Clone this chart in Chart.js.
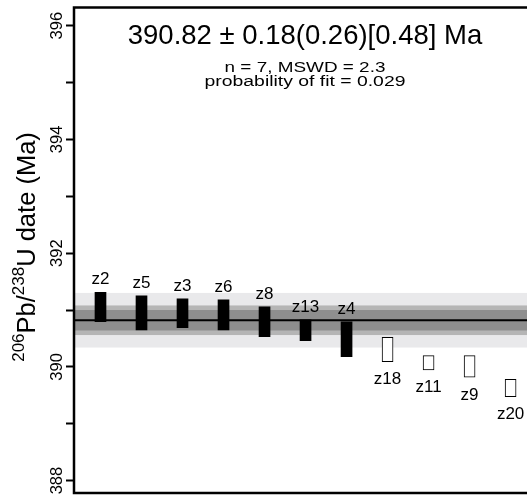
<!DOCTYPE html>
<html>
<head>
<meta charset="utf-8">
<script src="https://cdn.jsdelivr.net/npm/chart.js@4/dist/chart.umd.min.js"></script>
<style>
  html, body { margin: 0; padding: 0; background: #fff; }
  #wrap { width: 527px; height: 498px; position: relative; }
</style>
</head>
<body>
<div id="wrap"><canvas id="dateChart"></canvas></div>
<script>
// zircon grains, left to right
const grains = ['z2', 'z5', 'z3', 'z6', 'z8', 'z13', 'z4', 'z18', 'z11', 'z9', 'z20'];
// 206Pb/238U dates (Ma) and their 2σ errors
const dates  = [391.055, 390.949, 390.943, 390.914, 390.793, 390.644, 390.485, 390.306, 390.072, 390.008, 389.630];
const errors = [0.258, 0.299, 0.252, 0.264, 0.261, 0.182, 0.305, 0.215, 0.126, 0.190, 0.153];
// true = used for the weighted mean (filled bar)
const inMean = [true, true, true, true, true, true, true, false, false, false, false];

// weighted mean and its x / y / z uncertainties
const meanDate = 390.82;
const meanErrors = [0.18, 0.26, 0.48];
const meanN = 7;
const mswd = 2.3;
const probFit = 0.029;

// y axis ticks, labels only on even ages
const tickValues = [388, 389, 390, 391, 392, 393, 394, 395, 396];
const tickLabels = ['388', '', '390', '', '392', '', '394', '', '396'];

const FONT = "'Liberation Sans', Arial, Helvetica, sans-serif";
const bandColors = ['#8e8e8e', '#b5b5b5', '#e9e9eb']; // inner -> outer

// grey bands + mean line behind the bars
const meanBands = {
    id: 'meanBands',
    beforeDatasetsDraw(chart) {
        const {ctx, chartArea: a, scales: {y}} = chart;
        ctx.save();
        for (let k = meanErrors.length - 1; k >= 0; k--) {
            const top = y.getPixelForValue(meanDate + meanErrors[k]);
            const bot = y.getPixelForValue(meanDate - meanErrors[k]);
            ctx.fillStyle = bandColors[k];
            ctx.fillRect(a.left, top, a.right - a.left, bot - top);
        }
        const ym = y.getPixelForValue(meanDate);
        ctx.strokeStyle = '#000';
        ctx.lineWidth = 2;
        ctx.beginPath();
        ctx.moveTo(a.left, ym);
        ctx.lineTo(a.right, ym);
        ctx.stroke();
        ctx.restore();
    }
};

// grain names: above the filled bars, below the open ones
const grainLabels = {
    id: 'grainLabels',
    afterDatasetsDraw(chart) {
        const {ctx} = chart;
        const meta = chart.getDatasetMeta(0);
        ctx.save();
        ctx.fillStyle = '#000';
        ctx.font = '17px ' + FONT;
        ctx.textAlign = 'center';
        ctx.textBaseline = 'alphabetic';
        meta.data.forEach((bar, i) => {
            const top = Math.min(bar.y, bar.base);
            const bot = Math.max(bar.y, bar.base);
            if (inMean[i]) {
                ctx.fillText(grains[i], bar.x, top - 8);
            } else {
                ctx.fillText(grains[i], bar.x, bot + 22.5);
            }
        });
        ctx.restore();
    }
};

// stretched text line, centred on cx
function wideText(ctx, str, cx, y, sx) {
    ctx.save();
    ctx.translate(cx, y);
    ctx.scale(sx, 1);
    ctx.fillText(str, 0, 0);
    ctx.restore();
}

// frame (left, top, bottom) and the text block
const frameAndText = {
    id: 'frameAndText',
    afterDraw(chart) {
        const {ctx, chartArea: a} = chart;
        ctx.save();
        ctx.strokeStyle = '#000';
        ctx.lineWidth = 2.5;
        ctx.beginPath();
        ctx.moveTo(chart.width, a.top);
        ctx.lineTo(a.left, a.top);
        ctx.lineTo(a.left, a.bottom);
        ctx.lineTo(chart.width, a.bottom);
        ctx.stroke();

        ctx.fillStyle = '#000';
        ctx.textAlign = 'center';
        ctx.textBaseline = 'alphabetic';
        const cx = 305;
        ctx.font = '27.5px ' + FONT;
        ctx.fillText(meanDate.toFixed(2) + ' \u00b1 ' + meanErrors[0].toFixed(2) +
            '(' + meanErrors[1].toFixed(2) + ')[' + meanErrors[2].toFixed(2) + '] Ma', cx, 43.5);
        ctx.font = '15.5px ' + FONT;
        wideText(ctx, 'n = ' + meanN + ', MSWD = ' + mswd, cx, 71.5, 1.22);
        wideText(ctx, 'probability of fit = ' + probFit, cx, 86.3, 1.25);

        // rotated y axis title with superscripts
        const parts = [['206', true], ['Pb/', false], ['238', true], ['U date (Ma)', false]];
        const mainFont = '25.5px ' + FONT;
        const supFont = '17px ' + FONT;
        let total = 0;
        parts.forEach(p => {
            ctx.font = p[1] ? supFont : mainFont;
            total += ctx.measureText(p[0]).width;
        });
        ctx.translate(35, 247);
        ctx.rotate(-Math.PI / 2);
        ctx.textAlign = 'left';
        let x = -total / 2;
        parts.forEach(p => {
            ctx.font = p[1] ? supFont : mainFont;
            ctx.fillText(p[0], x, p[1] ? -11 : 0);
            x += ctx.measureText(p[0]).width;
        });
        ctx.restore();
    }
};

const chartConfig = {
    type: 'bar',
    data: {
        datasets: [{
            data: grains.map((g, i) => ({x: i + 1, y: [dates[i] - errors[i], dates[i] + errors[i]]})),
            backgroundColor: inMean.map(f => f ? '#000' : '#fff'),
            borderColor: '#000',
            borderWidth: inMean.map(f => f ? 0 : 1),
            borderSkipped: false,
            barThickness: 11,
            grouped: false
        }]
    },
    options: {
        responsive: true,
        maintainAspectRatio: false,
        animation: false,
        layout: { padding: { top: 7.5, bottom: 4.7, left: 0, right: 0 } },
        plugins: { legend: { display: false }, tooltip: { enabled: false } },
        scales: {
            x: { type: 'linear', offset: false, min: 0.354, max: 11.4, display: false },
            y: {
                min: 387.78,
                max: 396.32,
                afterBuildTicks: s => { s.ticks = tickValues.map(v => ({value: v})); },
                afterFit: s => { s.width = 74; },
                border: { display: false },
                grid: { drawOnChartArea: false, drawTicks: true, tickLength: 8, tickWidth: 2, tickColor: '#000' },
                ticks: {
                    autoSkip: false,
                    minRotation: 90,
                    maxRotation: 90,
                    crossAlign: 'center',
                    padding: -5,
                    color: '#000',
                    font: { size: 16.5, family: FONT },
                    callback: (v, i) => tickLabels[tickValues.indexOf(v)]
                }
            }
        }
    },
    plugins: [meanBands, grainLabels, frameAndText]
};

const dateChart = new Chart(document.getElementById('dateChart'), chartConfig);
</script>
</body>
</html>
